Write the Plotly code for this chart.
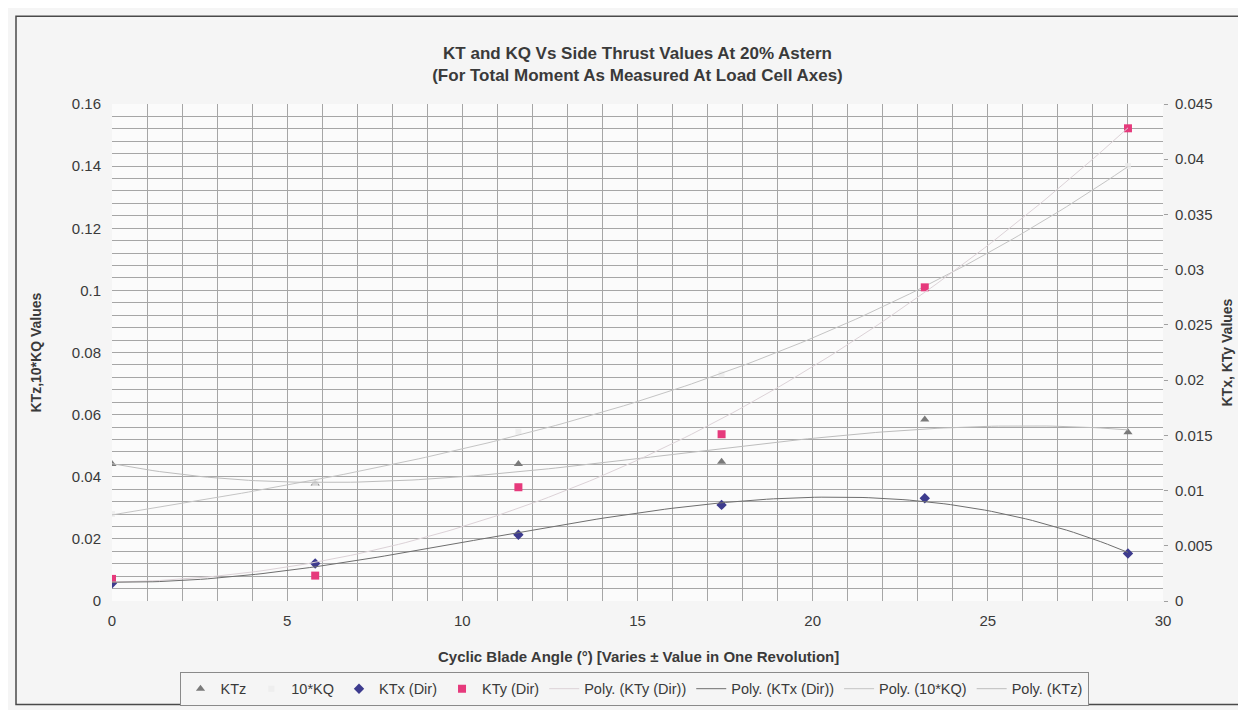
import numpy as np
import plotly.graph_objects as go

# ---- data ----
angle = [0, 5.8, 11.6, 17.4, 23.2, 29.0]
ktz = [0.0441, 0.0378, 0.0441, 0.0448, 0.0584, 0.0543]          # left axis
kq10 = [0.0280, 0.0380, 0.0545, 0.0730, 0.1010, 0.1400]         # left axis (almost invisible markers)
ktx = [0.0016, 0.0034, 0.0060, 0.0087, 0.0093, 0.0043]          # right axis
kty = [0.0020, 0.0023, 0.0103, 0.0151, 0.0284, 0.0428]          # right axis

left_ticks = [0, 0.02, 0.04, 0.06, 0.08, 0.1, 0.12, 0.14, 0.16]
right_ticks = [0, 0.005, 0.01, 0.015, 0.02, 0.025, 0.03, 0.035, 0.04, 0.045]
x_ticks = [0, 5, 10, 15, 20, 25, 30]
POLY_ORDER = 3

FONT = "Liberation Sans, Arial, sans-serif"
TXT = "#3a3a3a"
W, H = 1246, 710
ML, MR, MT, MB = 104, 91, 96, 110
PW, PH = W - ML - MR, H - MT - MB


def px(xp):
    return (xp - ML) / PW


def py(yp):
    return (H - MB - yp) / PH


xs = np.linspace(min(angle), max(angle), 150)


def poly(y):
    c = np.polyfit(angle, y, POLY_ORDER)
    return np.polyval(c, xs)


fig = go.Figure()

fig.add_trace(go.Scatter(x=angle, y=ktz, mode="markers", name="KTz",
                         marker=dict(symbol="triangle-up", size=8, color="#7a7a7a")))
fig.add_trace(go.Scatter(x=angle, y=kq10, mode="markers", name="10*KQ",
                         marker=dict(symbol="square", size=6, color="rgba(236,236,236,0.8)")))
fig.add_trace(go.Scatter(x=angle, y=ktx, mode="markers", name="KTx (Dir)", yaxis="y2",
                         marker=dict(symbol="diamond", size=8, color="#3d3b8e")))
fig.add_trace(go.Scatter(x=angle, y=kty, mode="markers", name="KTy (Dir)", yaxis="y2",
                         marker=dict(symbol="square", size=8, color="#e63a7c")))

fig.add_trace(go.Scatter(x=xs, y=poly(kty), mode="lines", name="Poly. (KTy (Dir))", yaxis="y2",
                         line=dict(color="#dcd2d7", width=1)))
fig.add_trace(go.Scatter(x=xs, y=poly(ktx), mode="lines", name="Poly. (KTx (Dir))", yaxis="y2",
                         line=dict(color="#6e6e6e", width=1)))
fig.add_trace(go.Scatter(x=xs, y=poly(kq10), mode="lines", name="Poly. (10*KQ)",
                         line=dict(color="#c4c4c4", width=1)))
fig.add_trace(go.Scatter(x=xs, y=poly(ktz), mode="lines", name="Poly. (KTz)",
                         line=dict(color="#bdbdbd", width=1)))

grid = "#a6a6a6"
tickfont = dict(family=FONT, size=15, color=TXT)

fig.update_layout(
    width=W, height=H,
    margin=dict(l=ML, r=MR, t=MT, b=MB),
    paper_bgcolor="#f5f5f5",
    plot_bgcolor="#fbfbfb",
    font=dict(family=FONT, color=TXT),
    title=dict(text="<b>KT and KQ Vs Side Thrust Values At 20% Astern<br>(For Total Moment As Measured At Load Cell Axes)</b>",
               x=0.5, xanchor="center", xref="paper", y=1 - 51 / H, yanchor="middle",
               font=dict(family=FONT, size=17, color=TXT)),
    xaxis=dict(range=[0, 30], tickvals=x_ticks, ticktext=[str(v) for v in x_ticks],
               showgrid=True, gridcolor=grid, gridwidth=1,
               minor=dict(dtick=1, showgrid=True, gridcolor=grid, gridwidth=1),
               zeroline=False, showline=False, tickfont=tickfont,
               ticks="", ticklabelstandoff=9),
    yaxis=dict(range=[0, 0.16], tickvals=left_ticks, ticktext=[f"{v:g}" for v in left_ticks],
               showgrid=True, gridcolor=grid, gridwidth=1,
               minor=dict(dtick=0.004, tick0=0, showgrid=True, gridcolor=grid, gridwidth=1),
               zeroline=False, showline=False, tickfont=tickfont, ticks="",
               ticklabelstandoff=10),
    yaxis2=dict(range=[0, 0.045], tickvals=right_ticks, ticktext=[f"{v:g}" for v in right_ticks],
                overlaying="y", side="right", showgrid=False, zeroline=False,
                showline=False, tickfont=tickfont, ticks="outside", ticklen=4,
                tickcolor="#a0a0a0", ticklabelstandoff=4),
    legend=dict(orientation="h", x=px(626), xanchor="center", y=py(689),
                yanchor="middle", bordercolor="#8a8a8a", borderwidth=1, bgcolor="#f5f5f5",
                font=dict(family=FONT, size=14.5, color=TXT), itemwidth=30,
                tracegroupgap=0),
    showlegend=True,
)

# axis titles
fig.add_annotation(text="<b>Cyclic Blade Angle (°) [Varies ± Value in One Revolution]</b>",
                   xref="paper", yref="paper", x=px(630), y=py(656), showarrow=False,
                   xanchor="center", yanchor="middle",
                   font=dict(family=FONT, size=15, color=TXT))
fig.add_annotation(text="<b>KTz,10*KQ Values</b>", textangle=-90,
                   xref="paper", yref="paper", x=px(27), y=py(348), showarrow=False,
                   xanchor="center", yanchor="middle",
                   font=dict(family=FONT, size=14, color=TXT))
fig.add_annotation(text="<b>KTx, KTy Values</b>", textangle=-90,
                   xref="paper", yref="paper", x=px(1218), y=py(348), showarrow=False,
                   xanchor="center", yanchor="middle",
                   font=dict(family=FONT, size=14, color=TXT))

# outer frame of the chart
fig.add_shape(type="rect", xref="paper", yref="paper",
              x0=px(8), x1=px(1238), y0=py(705), y1=py(7),
              line=dict(color="#4a4a4a", width=1.5), layer="below")

fig.write_html("out.html")
